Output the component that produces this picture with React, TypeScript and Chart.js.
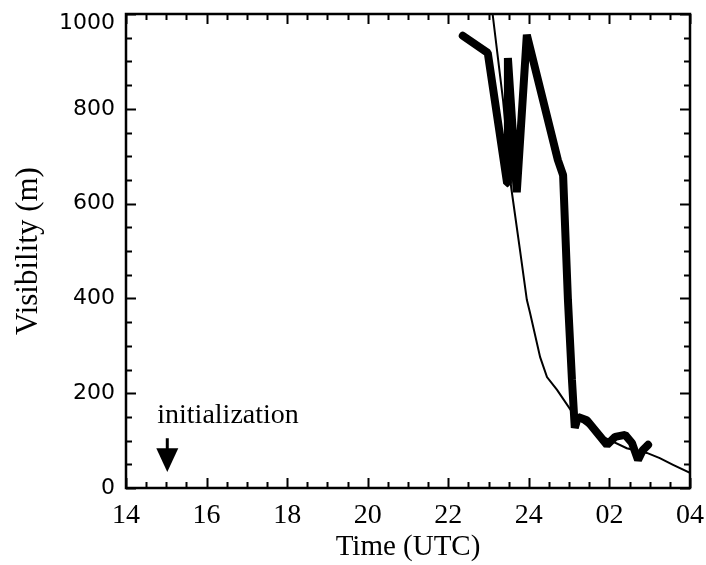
import React, { useEffect, useRef } from 'react';
import { Chart, registerables } from 'chart.js';

Chart.register(...registerables);

// Model (thin line)
const modelHours = [23.1, 23.36, 23.56, 23.78, 23.95, 24.03, 24.28, 24.45, 24.7, 25.09, 25.27, 25.84, 26.43, 26.93, 27.25, 27.58, 28.0];
const modelVis = [1000, 818, 635, 502, 397, 369, 276, 234, 207, 158, 143, 108, 84, 74, 63, 49, 32];

// Observations (thick line)
const obsHours = [22.36, 22.98, 23.46, 23.48, 23.7, 23.95, 24.72, 24.85, 24.97, 25.07, 25.14, 25.22, 25.44, 25.94, 26.14, 26.39, 26.56, 26.71, 26.83, 26.96];
const obsVis = [954, 918, 643, 907, 624, 956, 692, 660, 397, 228, 127, 150, 143, 91, 108, 112, 95, 59, 80, 91];

const xTickValues = [14, 16, 18, 20, 22, 24, 26, 28];
const xTickLabels = ['14', '16', '18', '20', '22', '24', '02', '04'];
const yTickValues = [0, 200, 400, 600, 800, 1000];

// Annotation (data coordinates)
const initHour = 15;
const annotationText = 'initialization';
const labelBaselineVis = 137;
const arrowTopVis = 105;
const arrowHeadVis = 84;
const arrowTipVis = 34;

const framePlugin = {
  id: 'frame',
  afterDraw(chart: any) {
    const { ctx, chartArea: a, scales } = chart;
    const x = scales.x;
    const y = scales.y;
    ctx.save();
    ctx.strokeStyle = '#000';
    ctx.fillStyle = '#000';
    ctx.lineWidth = 2.5;
    ctx.strokeRect(a.left, a.top, a.right - a.left, a.bottom - a.top);
    ctx.lineWidth = 2;
    ctx.beginPath();
    for (let h = 14; h <= 28.001; h += 0.5) {
      const px = Math.round(x.getPixelForValue(h)) + 0.5;
      const len = Math.abs(h % 2) < 0.01 ? 10 : 6;
      ctx.moveTo(px, a.bottom);
      ctx.lineTo(px, a.bottom - len);
      ctx.moveTo(px, a.top);
      ctx.lineTo(px, a.top + len);
    }
    for (let v = 0; v <= 1000; v += 50) {
      const py = Math.round(y.getPixelForValue(v)) + 0.5;
      const len = v % 200 === 0 ? 10 : 6;
      ctx.moveTo(a.left, py);
      ctx.lineTo(a.left + len, py);
      ctx.moveTo(a.right, py);
      ctx.lineTo(a.right - len, py);
    }
    ctx.stroke();

    // annotation
    const ax = x.getPixelForValue(initHour);
    ctx.font = '28px "Liberation Serif", "Times New Roman", serif';
    ctx.textBaseline = 'alphabetic';
    ctx.textAlign = 'left';
    ctx.fillText(annotationText, ax - 9, y.getPixelForValue(labelBaselineVis));
    ctx.lineWidth = 3;
    ctx.beginPath();
    ctx.moveTo(ax + 1, y.getPixelForValue(arrowTopVis));
    ctx.lineTo(ax + 1, y.getPixelForValue(arrowHeadVis) + 2);
    ctx.stroke();
    ctx.beginPath();
    ctx.moveTo(ax - 10, y.getPixelForValue(arrowHeadVis));
    ctx.lineTo(ax + 12, y.getPixelForValue(arrowHeadVis));
    ctx.lineTo(ax + 1, y.getPixelForValue(arrowTipVis));
    ctx.closePath();
    ctx.fill();
    ctx.restore();
  },
};

export default function App() {
  const canvasRef = useRef<HTMLCanvasElement | null>(null);

  useEffect(() => {
    if (!canvasRef.current) return;
    const modelData = modelHours.map((h, i) => ({ x: h, y: modelVis[i] }));
    const obsData = obsHours.map((h, i) => ({ x: h, y: obsVis[i] }));
    const chart = new Chart(canvasRef.current, {
      type: 'line',
      data: {
        datasets: [
          {
            label: 'Model',
            data: modelData,
            borderColor: '#000',
            borderWidth: 2,
            pointRadius: 0,
            tension: 0,
            fill: false,
          },
          {
            label: 'Observed',
            data: obsData,
            borderColor: '#000',
            borderWidth: 8,
            pointRadius: 0,
            tension: 0,
            fill: false,
            borderJoinStyle: 'bevel',
            borderCapStyle: 'round',
          },
        ],
      },
      options: {
        responsive: false,
        animation: false,
        layout: { padding: { top: 14, right: 16, left: 0, bottom: 0 } },
        plugins: {
          legend: { display: false },
          tooltip: { enabled: false },
        },
        scales: {
          x: {
            type: 'linear',
            min: 14,
            max: 28,
            afterFit: (s: any) => {
              s.height = 77;
              s.paddingLeft = 0;
              s.paddingRight = 0;
            },
            afterBuildTicks: (s: any) => {
              s.ticks = xTickValues.map((v) => ({ value: v }));
            },
            grid: { display: false, drawTicks: false },
            border: { display: false },
            ticks: {
              padding: 11,
              maxRotation: 0,
              autoSkip: false,
              color: '#000',
              font: { family: '"Liberation Serif", "Times New Roman", serif', size: 28 },
              callback: (v: any) => {
                const i = xTickValues.indexOf(Number(v));
                return i >= 0 ? xTickLabels[i] : '';
              },
            },
            title: {
              display: true,
              text: 'Time (UTC)',
              color: '#000',
              padding: { top: 0, bottom: 0 },
              font: { family: '"Liberation Serif", "Times New Roman", serif', size: 29 },
            },
          },
          y: {
            type: 'linear',
            min: 0,
            max: 1000,
            afterFit: (s: any) => {
              s.width = 126;
              s.paddingTop = 0;
              s.paddingBottom = 0;
            },
            afterBuildTicks: (s: any) => {
              s.ticks = yTickValues.map((v) => ({ value: v }));
            },
            grid: { display: false, drawTicks: false },
            border: { display: false },
            ticks: {
              padding: 11,
              autoSkip: false,
              color: '#000',
              font: { family: '"DejaVu Sans", sans-serif', size: 22, lineHeight: 0.8 },
              // the top label sits a little below its tick in the reference
              callback: (v: any) => (Number(v) === 1000 ? ['', String(v)] : String(v)),
            },
            title: {
              display: true,
              text: 'Visibility (m)',
              color: '#000',
              padding: { top: 10, bottom: 0 },
              font: { family: '"Liberation Serif", "Times New Roman", serif', size: 31 },
            },
          },
        },
      },
      plugins: [framePlugin],
    });
    return () => chart.destroy();
  }, []);

  return (
    <div style={{ position: 'fixed', left: 0, top: 0, width: 706, height: 565, background: '#fff' }}>
      <canvas ref={canvasRef} width={706} height={565} style={{ display: 'block' }} />
    </div>
  );
}
